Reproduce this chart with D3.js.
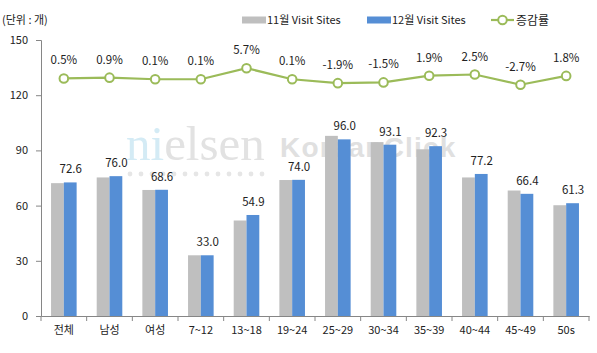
<!DOCTYPE html>
<html>
<head>
<meta charset="utf-8">
<script src="https://cdn.jsdelivr.net/npm/d3@7"></script>
<style>
  body { margin: 0; background: #fff; }
  svg { display: block; font-family: "Noto Sans CJK KR", "Open Sans", sans-serif; }
</style>
</head>
<body>
<div id="chart"></div>
<script>
// Data
const categories = ['전체', '남성', '여성', '7~12', '13~18', '19~24', '25~29', '30~34', '35~39', '40~44', '45~49', '50s']
const novSites = [72.2, 75.3, 68.5, 33.0, 51.9, 73.9, 97.9, 94.5, 90.6, 75.3, 68.2, 60.2]
const decSites = [72.6, 76.0, 68.6, 33.0, 54.9, 74.0, 96.0, 93.1, 92.3, 77.2, 66.4, 61.3]
const growth = [0.5, 0.9, 0.1, 0.1, 5.7, 0.1, -1.9, -1.5, 1.9, 2.5, -2.7, 1.8]
const yTicks = [0, 30, 60, 90, 120, 150]
const seriesNames = ['11월 Visit Sites', '12월 Visit Sites', '증감률']

// Const variables
const width = 597
const height = 353
const margin = { top: 40, right: 8, bottom: 37, left: 41 }
const grayColor = '#BFBFBF'
const blueColor = '#558ED5'
const greenColor = '#9BBB59'
const axisColor = '#868686'

const svg = d3.select('#chart')
  .append('svg')
    .attr('width', width)
    .attr('height', height)

// Scales
const x = d3.scaleBand()
  .domain(categories)
  .range([margin.left, width - margin.right])
const y = d3.scaleLinear()
  .domain([0, 150])
  .range([height - margin.bottom, margin.top])
const y2 = d3.scaleLinear()
  .domain([-120, 20])
  .range([height - margin.bottom, margin.top])
const barW = 12.8

// Watermark (behind the bars)
const wm = svg.append('g').attr('class', 'watermark')
wm.append('text')
    .attr('x', 126)
    .attr('y', 160)
    .attr('font-family', '"Liberation Serif", "Times New Roman", serif')
    .attr('font-size', 49)
  .call(t => {
    t.append('tspan').attr('fill', '#d4ebf5').text('ni')
    t.append('tspan').attr('fill', '#e2e2e2').text('elsen')
  })
wm.append('text')
    .attr('x', 280)
    .attr('y', 157)
    .attr('font-family', '"Liberation Sans", Arial, sans-serif')
    .attr('font-weight', 'bold')
    .attr('font-size', 28)
    .attr('letter-spacing', 1.2)
    .attr('fill', '#e0e0e0')
    .text('KoreanClick')
wm.selectAll('circle')
  .data(d3.range(13))
  .enter()
  .append('circle')
    .attr('cx', d => 130 + d * 11)
    .attr('cy', 174)
    .attr('r', 2.4)
    .attr('fill', '#e6e6e6')

// Bars
const groups = svg.append('g')
  .selectAll('g')
  .data(categories)
  .enter()
  .append('g')
groups.append('rect')
    .attr('x', d => x(d) + x.bandwidth() / 2 - barW)
    .attr('y', (d, i) => y(novSites[i]))
    .attr('width', barW)
    .attr('height', (d, i) => y(0) - y(novSites[i]))
    .attr('fill', grayColor)
groups.append('rect')
    .attr('x', d => x(d) + x.bandwidth() / 2)
    .attr('y', (d, i) => y(decSites[i]))
    .attr('width', barW)
    .attr('height', (d, i) => y(0) - y(decSites[i]))
    .attr('fill', blueColor)
groups.append('text')
    .attr('x', d => x(d) + x.bandwidth() / 2 + barW / 2 + 0.5)
    .attr('y', (d, i) => y(decSites[i]) - 9)
    .attr('text-anchor', 'middle')
    .attr('font-size', 11.5)
    .attr('fill', '#222')
    .text((d, i) => decSites[i].toFixed(1))

// Axes
const yAxis = svg.append('g')
    .attr('transform', `translate(${margin.left},0)`)
    .call(d3.axisLeft(y).tickValues(yTicks).tickSize(5).tickPadding(8))
yAxis.selectAll('path, line').attr('stroke', axisColor)
yAxis.selectAll('text').attr('font-size', 11).attr('fill', '#222').attr('font-family', '"Noto Sans CJK KR", sans-serif')

const xAxis = svg.append('g')
    .attr('transform', `translate(0,${y(0)})`)
    .call(d3.axisBottom(x).tickSize(0).tickSizeOuter(0).tickPadding(10))
xAxis.select('.domain').attr('stroke', axisColor)
xAxis.selectAll('text').attr('font-size', 11).attr('fill', '#222').attr('font-family', '"Noto Sans CJK KR", sans-serif')
xAxis.selectAll('.sep')
  .data(categories.concat(['end']))
  .enter()
  .append('line')
    .attr('class', 'sep')
    .attr('x1', (d, i) => margin.left + i * x.bandwidth())
    .attr('x2', (d, i) => margin.left + i * x.bandwidth())
    .attr('y1', 0)
    .attr('y2', 5)
    .attr('stroke', axisColor)

// Growth line
const line = d3.line()
  .x((d, i) => x(categories[i]) + x.bandwidth() / 2)
  .y(d => y2(d))
svg.append('path')
    .datum(growth)
    .attr('d', line)
    .attr('fill', 'none')
    .attr('stroke', greenColor)
    .attr('stroke-width', 2.2)
svg.append('g')
  .selectAll('circle')
  .data(growth)
  .enter()
  .append('circle')
    .attr('cx', (d, i) => x(categories[i]) + x.bandwidth() / 2)
    .attr('cy', d => y2(d))
    .attr('r', 4.3)
    .attr('fill', '#fff')
    .attr('stroke', greenColor)
    .attr('stroke-width', 2)
svg.append('g')
  .selectAll('text')
  .data(growth)
  .enter()
  .append('text')
    .attr('x', (d, i) => x(categories[i]) + x.bandwidth() / 2)
    .attr('y', d => y2(d) - 14)
    .attr('text-anchor', 'middle')
    .attr('font-size', 11.5)
    .attr('fill', '#222')
    .text(d => d.toFixed(1) + '%')

// Unit label
svg.append('text')
    .attr('x', 2)
    .attr('y', 24)
    .attr('font-size', 11)
    .attr('fill', '#222')
    .text('(단위 : 개)')

// Legend
const legend = svg.append('g').attr('font-size', 11).attr('fill', '#222')
legend.append('rect').attr('x', 242).attr('y', 16.5).attr('width', 24).attr('height', 7).attr('fill', grayColor)
legend.append('text').attr('x', 267).attr('y', 24).text(seriesNames[0])
legend.append('rect').attr('x', 367).attr('y', 16.5).attr('width', 24).attr('height', 7).attr('fill', blueColor)
legend.append('text').attr('x', 392).attr('y', 24).text(seriesNames[1])
legend.append('line').attr('x1', 491).attr('x2', 514).attr('y1', 20).attr('y2', 20)
    .attr('stroke', greenColor).attr('stroke-width', 2.2)
legend.append('circle').attr('cx', 502.5).attr('cy', 20).attr('r', 4.3)
    .attr('fill', '#fff').attr('stroke', greenColor).attr('stroke-width', 2)
legend.append('text').attr('x', 516).attr('y', 25).attr('font-size', 12).text(seriesNames[2])
</script>
</body>
</html>
